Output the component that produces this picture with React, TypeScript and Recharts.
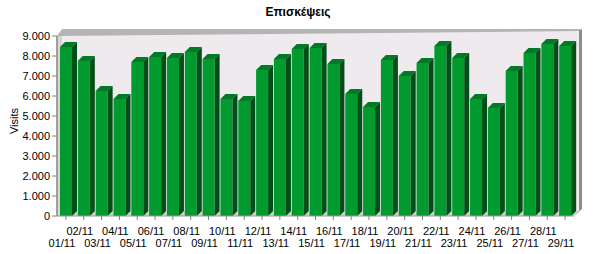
import React from "react";
import { BarChart, Bar, XAxis, YAxis, CartesianGrid } from "recharts";

// daily visits, November
const DAYS = [
  "01/11", "02/11", "03/11", "04/11", "05/11", "06/11", "07/11", "08/11", "09/11", "10/11",
  "11/11", "12/11", "13/11", "14/11", "15/11", "16/11", "17/11", "18/11", "19/11", "20/11",
  "21/11", "22/11", "23/11", "24/11", "25/11", "26/11", "27/11", "28/11", "29/11",
];
const VISITS = [
  8450, 7750, 6250, 5850, 7700, 7950, 7900, 8200, 7850, 5850,
  5750, 7300, 7850, 8350, 8400, 7600, 6100, 5450, 7800, 7000,
  7650, 8500, 7900, 5850, 5400, 7250, 8150, 8600, 8500,
];
const Y_TICKS = [0, 1000, 2000, 3000, 4000, 5000, 6000, 7000, 8000, 9000];

const data = DAYS.map((day, i) => ({ day, visits: VISITS[i] }));

/** chart frame: front plane of the 3D box, plus wall depth */
const W = 609;
const H = 254;
const M = { top: 36, right: 35, bottom: 38, left: 57 };
const PW = W - M.left - M.right;
const PH = H - M.top - M.bottom;
const D = 5;

const FONT = "'Liberation Sans', Arial, sans-serif";
const GREEN = { front: "#009a2f", top: "#007a26", side: "#004e18" };

const fmt = (v: number) => String(v).replace(/\B(?=(\d{3})+(?!\d))/g, ".");

function Bar3D(props: any) {
  const { x, y, width: w, height: h } = props;
  if (h == null || h <= 0) return null;
  return (
    <g>
      <rect x={x} y={y} width={w} height={h} fill={GREEN.front} />
      <polygon points={`${x},${y} ${x + D},${y - D} ${x + w + D},${y - D} ${x + w},${y}`} fill={GREEN.top} />
      <polygon
        points={`${x + w},${y} ${x + w + D},${y - D} ${x + w + D},${y + h - D} ${x + w},${y + h}`}
        fill={GREEN.side}
      />
    </g>
  );
}

// back wall, left wall and floor of the box
function Walls() {
  const l = M.left;
  const t = M.top;
  const r = M.left + PW;
  const b = M.top + PH;
  return (
    <g>
      <rect x={l + D} y={t - D} width={PW} height={PH} fill="#eeeaee" />
      <polygon points={`${l},${b} ${l},${t} ${l + D},${t - D} ${l + D},${b - D}`} fill="#d6d6d6" />
      <line x1={l} y1={b} x2={l} y2={t} stroke="#a0a0a0" strokeWidth={2} />
      <polygon points={`${l},${b} ${r},${b} ${r + D},${b - D} ${l + D},${b - D}`} fill="#cfcfcf" />
      <polygon points={`${l},${t} ${l + D},${t - D - 2} ${r + D + 3},${t - D - 2} ${r + D},${t - D}`} fill="#b4b4b4" />
      <rect x={l + D} y={t - D - 2} width={PW + 1} height={2} fill="#b4b4b4" />
      <polygon
        points={`${r + D},${t - D} ${r + D + 3},${t - D - 2} ${r + D + 3},${b - D - 2} ${r + D},${b - D}`}
        fill="#8c8c8c"
      />
      <polygon
        points={`${r},${b} ${r + D},${b - D} ${r + D + 3},${b - D - 2} ${r + 3},${b - 2}`}
        fill="#a8a8a8"
      />
    </g>
  );
}

function DayTick(props: any) {
  const { x, y, payload, index } = props;
  const lower = index % 2 === 0;
  return (
    <text
      x={x - 4}
      y={y + (lower ? 27 : 15)}
      textAnchor="middle"
      fontSize={11}
      fontFamily="'Liberation Sans Narrow', 'Liberation Sans', Arial, sans-serif"
      fill="#000"
    >
      {payload.value}
    </text>
  );
}

export default function App() {
  return (
    <div style={{ position: "absolute", left: 0, top: 0, width: W, height: H, background: "#fff" }}>
      <BarChart
        width={W}
        height={H}
        data={data}
        margin={{ top: M.top, right: M.right, left: 0, bottom: 0 }}
        barSize={12}
      >
        <Walls />
        <CartesianGrid
          vertical={false}
          horizontal={(p: any) => (
            <line key={p.key} x1={p.x1 + D} x2={p.x2 + D} y1={p.y1 - D} y2={p.y2 - D} stroke="#8c8c8c" />
          )}
        />
        <XAxis
          dataKey="day"
          interval={0}
          tickSize={4}
          tickMargin={0}
          tickLine={{ stroke: "#808080" }}
          axisLine={{ stroke: "#9a9a9a" }}
          tick={<DayTick />}
          height={M.bottom}
        />
        <YAxis
          domain={[0, 9000]}
          ticks={Y_TICKS}
          interval={0}
          tickFormatter={fmt}
          tickSize={5}
          tickMargin={2}
          axisLine={false}
          tickLine={{ stroke: "#808080" }}
          tick={{ fontSize: 11, fill: "#000", fontFamily: FONT }}
          width={M.left}
          label={{
            content: ({ viewBox }: any) => (
              <text
                x={14}
                y={viewBox.y + viewBox.height / 2 - 5}
                transform={`rotate(-90 14 ${viewBox.y + viewBox.height / 2 - 5})`}
                textAnchor="middle"
                dominantBaseline="central"
                fontSize={11}
                fontFamily={FONT}
                fill="#000"
              >
                Visits
              </text>
            ),
          }}
        />
        <Bar dataKey="visits" shape={<Bar3D />} isAnimationActive={false} />
        <text x={298} y={16} textAnchor="middle" fontSize={12} fontWeight="bold" fontFamily={FONT} fill="#000">
          Επισκέψεις
        </text>
      </BarChart>
    </div>
  );
}
